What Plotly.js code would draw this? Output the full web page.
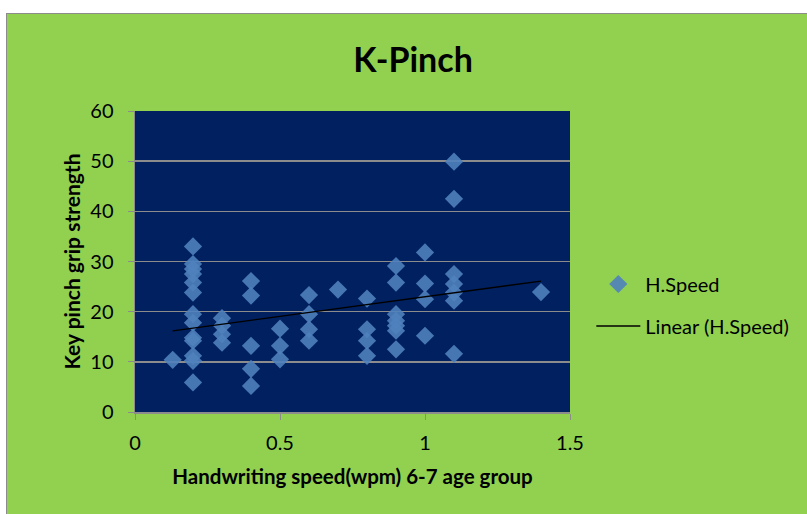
<!DOCTYPE html>
<html>
<head>
<meta charset="utf-8">
<script src="https://cdn.plot.ly/plotly-3.0.1.min.js"></script>
<style>
html,body{margin:0;padding:0;background:#ffffff;width:807px;height:514px;overflow:hidden;}
#frame{position:absolute;left:6px;top:13px;width:801px;height:501px;border-left:1.5px solid #8c8c8c;border-top:1.5px solid #8c8c8c;box-sizing:border-box;}
#chart{width:100%;height:100%;}
</style>
</head>
<body>
<div id="frame"><div id="chart"></div></div>
<script>
// Handwriting speed (wpm), 6-7 age group
const speed = [
  0.13,
  0.2,0.2,0.2,0.2,0.2,0.2,0.2,0.2,0.2,0.2,0.2,0.2,0.2,
  0.3,0.3,0.3,0.3,
  0.4,0.4,0.4,0.4,0.4,
  0.5,0.5,0.5,
  0.6,0.6,0.6,0.6,
  0.7,
  0.8,0.8,0.8,0.8,
  0.9,0.9,0.9,0.9,0.9,0.9,0.9,
  1.0,1.0,1.0,1.0,
  1.1,1.1,1.1,1.1,1.1,1.1,1.1,
  1.4
];
// Key pinch grip strength
const pinch = [
  10.4,
  33,29.5,28.5,27.5,25.8,23.8,19.5,17.8,14.8,14.2,11.2,10.2,5.9,
  18.7,17.2,15.5,13.8,
  26.1,23.2,13.2,8.6,5.2,
  16.6,13.2,10.5,
  23.3,19.5,16.5,14.2,
  24.4,
  22.6,16.5,14.2,11.2,
  29.1,25.8,19.5,18.2,17.2,16.2,12.5,
  31.8,25.6,22.5,15.2,
  49.9,42.5,27.5,25.5,23.8,22.2,11.6,
  23.9
];
const xTicks = [0, 0.5, 1, 1.5];
const xTickText = ['0', '0.5', '1', '1.5'];
const yTicks = [0, 10, 20, 30, 40, 50, 60];

// least-squares linear trendline
const n = speed.length;
let sx=0, sy=0, sxx=0, sxy=0;
for (let i=0;i<n;i++){ sx+=speed[i]; sy+=pinch[i]; sxx+=speed[i]*speed[i]; sxy+=speed[i]*pinch[i]; }
const slope = (n*sxy - sx*sy)/(n*sxx - sx*sx);
const intercept = (sy - slope*sx)/n;
const xmin = Math.min(...speed), xmax = Math.max(...speed);
const trendX = [xmin, xmax];
const trendY = trendX.map(v => intercept + slope*v);

const font = "Lato, 'Open Sans', sans-serif";

const traces = [
  {
    x: speed, y: pinch, type: 'scatter', mode: 'markers', name: 'H.Speed',
    legendgroup: 'a',
    marker: {symbol: 'diamond', size: 14, color: '#4f81bd', opacity: 0.9, line: {width: 0}}
  },
  {
    x: trendX, y: trendY, type: 'scatter', mode: 'lines', name: 'Linear (H.Speed)',
    legendgroup: 'b',
    line: {color: '#000000', width: 1.3}
  }
];

const layout = {
  width: 801, height: 501,
  paper_bgcolor: '#92d050',
  plot_bgcolor: '#002060',
  margin: {l: 128, r: 238, t: 97, b: 103, pad: 0},
  title: {text: '<b>K-Pinch</b>', font: {family: font, size: 34, color: '#000'}, x: 0.507, xanchor: 'center', y: 0.908, yanchor: 'middle'},
  font: {family: font, color: '#000'},
  xaxis: {
    range: [0, 1.5], tickvals: xTicks, ticktext: xTickText,
    showgrid: false, zeroline: false,
    showline: true, linecolor: '#8c8c8c', linewidth: 1.5,
    ticks: 'outside', ticklen: 6, tickcolor: '#8c8c8c', tickwidth: 1,
    ticklabelstandoff: 6,
    tickfont: {family: font, size: 20, color: '#000'},
    title: {text: '<b>Handwriting speed(wpm) 6-7 age group</b>', font: {family: font, size: 20.5, color: '#000'}, standoff: 17}
  },
  yaxis: {
    range: [0, 60], tickvals: yTicks,
    showgrid: true, gridcolor: '#8c8c8c', gridwidth: 1.5,
    zeroline: false,
    showline: true, linecolor: '#8c8c8c', linewidth: 1.5,
    ticks: 'outside', ticklen: 6, tickcolor: '#8c8c8c', tickwidth: 1,
    ticklabelstandoff: 10,
    tickfont: {family: font, size: 20, color: '#000'},
    title: {text: '<b>Key pinch grip strength</b>', font: {family: font, size: 21, color: '#000'}, standoff: 4}
  },
  showlegend: true,
  legend: {
    x: 1.049, xanchor: 'left', y: 0.49, yanchor: 'top',
    bgcolor: 'rgba(0,0,0,0)', borderwidth: 0,
    traceorder: 'grouped', tracegroupgap: 13,
    itemwidth: 44,
    font: {family: font, size: 20, color: '#000'}
  }
};

Plotly.newPlot('chart', traces, layout, {displayModeBar: false, staticPlot: true});
</script>
</body>
</html>
